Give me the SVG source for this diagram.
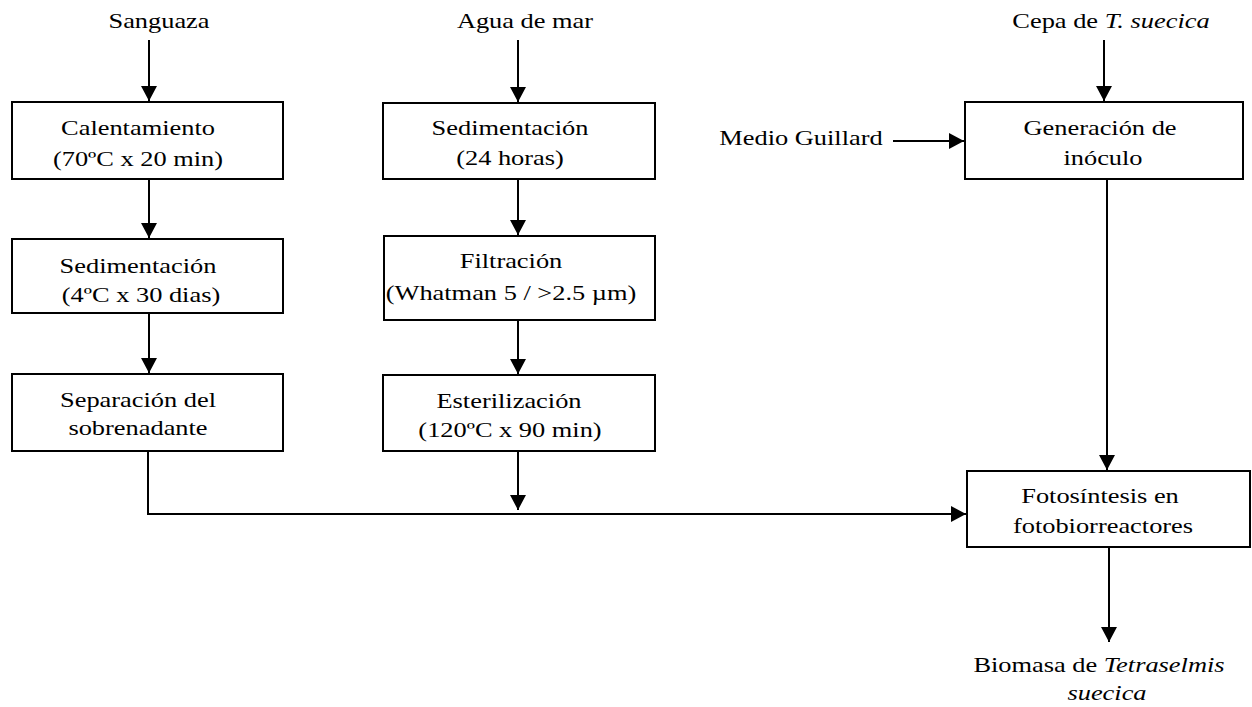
<svg xmlns="http://www.w3.org/2000/svg" width="1252" height="707" viewBox="0 0 1252 707">
<defs>
<marker id="ah" viewBox="0 0 10 10" refX="10" refY="5" markerWidth="15" markerHeight="16" markerUnits="userSpaceOnUse" orient="auto" preserveAspectRatio="none">
<path d="M0,0 L10,5 L0,10 Z" fill="#000"/>
</marker>
<style>
.box{fill:#fff;stroke:#000;stroke-width:2}
.t{font-family:"Liberation Serif","Times New Roman",serif;font-size:22px;fill:#000;text-anchor:middle}
.c{fill:none;stroke:#000;stroke-width:2;marker-end:url(#ah)}
</style>
</defs>
<rect width="1252" height="707" fill="#fff"/>
<g id="connectors">
<path class="c" d="M149,40 V101"/>
<path class="c" d="M149,180 V238"/>
<path class="c" d="M149,314 V373"/>
<path class="c" d="M518,40 V102"/>
<path class="c" d="M518,180 V235"/>
<path class="c" d="M518,321 V374"/>
<path class="c" d="M518,452 V510"/>
<path class="c" d="M1104,40 V101"/>
<path class="c" d="M893,141 H964"/>
<path class="c" d="M1107,180 V470"/>
<path class="c" d="M148,451 V514 H966"/>
<path class="c" d="M1109,548 V642"/>
</g>
<g id="sanguaza"><text class="t" transform="translate(159,28) scale(1.2,1)">Sanguaza</text></g>
<g id="calentamiento"><rect class="box" x="12" y="102" width="271" height="77"/><text class="t" transform="translate(138,135) scale(1.2,1)">Calentamiento</text><text class="t" transform="translate(138,166) scale(1.2,1)">(70ºC x 20 min)</text></g>
<g id="sedimentacion1"><rect class="box" x="12" y="239" width="271" height="74"/><text class="t" transform="translate(138,273) scale(1.2,1)">Sedimentación</text><text class="t" transform="translate(141,302) scale(1.2,1)">(4ºC x 30 dias)</text></g>
<g id="separacion"><rect class="box" x="12" y="374" width="271" height="77"/><text class="t" transform="translate(138,407) scale(1.2,1)">Separación del</text><text class="t" transform="translate(138,435) scale(1.2,1)">sobrenadante</text></g>
<g id="agua"><text class="t" transform="translate(525,28) scale(1.2,1)">Agua de mar</text></g>
<g id="sedimentacion2"><rect class="box" x="383" y="103" width="272" height="76"/><text class="t" transform="translate(510,135) scale(1.2,1)">Sedimentación</text><text class="t" transform="translate(510,165) scale(1.2,1)">(24 horas)</text></g>
<g id="filtracion"><rect class="box" x="384" y="236" width="271" height="84"/><text class="t" transform="translate(511,268) scale(1.2,1)">Filtración</text><text class="t" transform="translate(511,300) scale(1.2,1)">(Whatman 5 / &gt;2.5 µm)</text></g>
<g id="esterilizacion"><rect class="box" x="383" y="375" width="272" height="76"/><text class="t" transform="translate(509,408) scale(1.2,1)">Esterilización</text><text class="t" transform="translate(510,437) scale(1.2,1)">(120ºC x 90 min)</text></g>
<g id="cepa"><text class="t" transform="translate(1111,28) scale(1.2,1)">Cepa de <tspan font-style="italic">T. suecica</tspan></text></g>
<g id="medio"><text class="t" transform="translate(801,145) scale(1.2,1)">Medio Guillard</text></g>
<g id="generacion"><rect class="box" x="965" y="102" width="278" height="77"/><text class="t" transform="translate(1100,135) scale(1.2,1)">Generación de</text><text class="t" transform="translate(1103,165) scale(1.2,1)">inóculo</text></g>
<g id="fotosintesis"><rect class="box" x="967" y="471" width="283" height="76"/><text class="t" transform="translate(1100,503) scale(1.2,1)">Fotosíntesis en</text><text class="t" transform="translate(1103,533) scale(1.2,1)">fotobiorreactores</text></g>
<g id="biomasa"><text class="t" transform="translate(1099,672) scale(1.2,1)">Biomasa de <tspan font-style="italic">Tetraselmis</tspan></text><text class="t" font-style="italic" transform="translate(1107,700) scale(1.2,1)">suecica</text></g>
</svg>
